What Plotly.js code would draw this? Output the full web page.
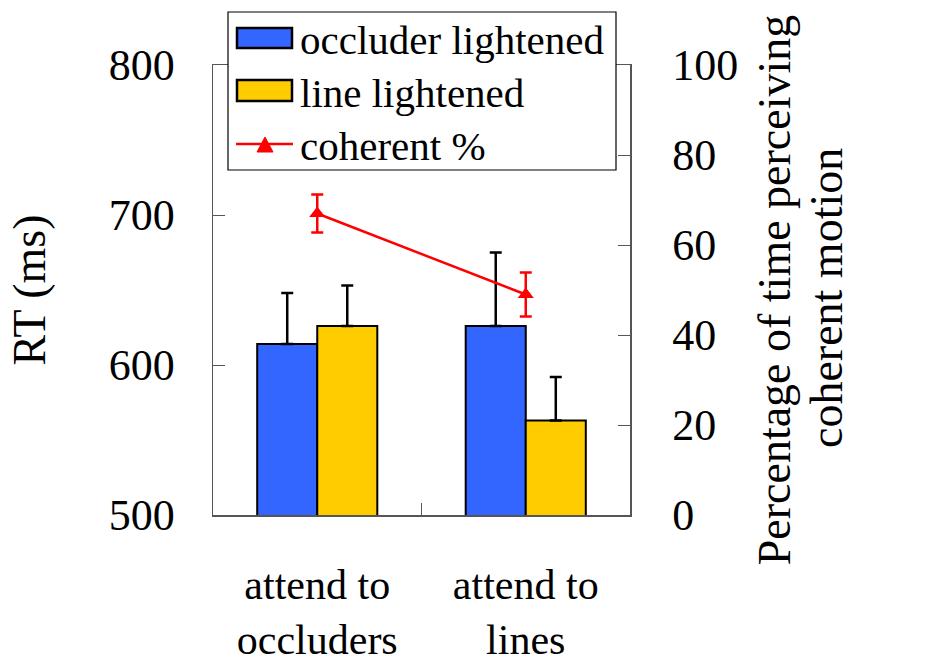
<!DOCTYPE html>
<html><head><meta charset="utf-8">
<script src="https://cdn.plot.ly/plotly-3.0.1.min.js"></script>
<style>body{margin:0;background:#fff}#chart{width:934px;height:664px}</style>
</head><body><div id="chart"></div>
<script>
const categories = ["attend to<br>occluders", "attend to<br>lines"];
const occluderRT = [614, 626];
const occluderErr = [34, 49];
const lineRT = [626, 563];
const lineErr = [27, 29];
const coherentPct = [67, 49];
const coherentErr = [4.2, 4.9];
const rtTicks = [500, 600, 700, 800];
const pctTicks = [0, 20, 40, 60, 80, 100];
const legendNames = ["occluder lightened", "line lightened", "coherent %"];
const y2TitleLines = ["Percentage of time perceiving", "coherent motion"];
const colors = {occ:"#3366FF", line:"#FFCC00", coh:"#FF0000"};

const F = "'Liberation Serif', 'Times New Roman', Times, serif";
const L = 213, R = 630, T = 65, B = 515;
const px = v => (v - L) / (R - L);
const py = v => (B - v) / (B - T);

const traces = [
  {type:"bar", name:legendNames[0], x:categories, y:occluderRT,
   marker:{color:colors.occ, line:{color:"#000", width:2}},
   error_y:{type:"data", array:occluderErr, arrayminus:occluderErr.map(()=>0), symmetric:false, color:"#000", thickness:2.5, width:6}},
  {type:"bar", name:legendNames[1], x:categories, y:lineRT,
   marker:{color:colors.line, line:{color:"#000", width:2}},
   error_y:{type:"data", array:lineErr, arrayminus:lineErr.map(()=>0), symmetric:false, color:"#000", thickness:2.5, width:6}},
  {type:"scatter", mode:"lines+markers", name:legendNames[2], x:categories, y:coherentPct, yaxis:"y2",
   line:{color:colors.coh, width:2.5}, marker:{symbol:"triangle-up", size:14, color:colors.coh},
   error_y:{type:"data", array:coherentErr, color:colors.coh, thickness:2.5, width:6}}
];

// custom legend (box, swatches, labels)
const shapes = [
  {type:"rect", xref:"paper", yref:"paper", x0:px(228), x1:px(616), y0:py(12), y1:py(170), fillcolor:"#fff", line:{color:"#000", width:1.2}, layer:"above"},
  {type:"rect", xref:"paper", yref:"paper", x0:px(237), x1:px(292), y0:py(28), y1:py(48), fillcolor:colors.occ, line:{color:"#000", width:2.5}, layer:"above"},
  {type:"rect", xref:"paper", yref:"paper", x0:px(237), x1:px(292), y0:py(80), y1:py(101), fillcolor:colors.line, line:{color:"#000", width:2.5}, layer:"above"},
  {type:"line", xref:"paper", yref:"paper", x0:px(236), x1:px(293), y0:py(144), y1:py(144), line:{color:colors.coh, width:2.5}, layer:"above"},
  {type:"path", xref:"paper", yref:"paper", path:`M ${px(257)} ${py(152)} L ${px(273)} ${py(152)} L ${px(265)} ${py(137)} Z`, fillcolor:colors.coh, line:{color:colors.coh, width:1}, layer:"above"}
];
const annotations = legendNames.map((n, i) => ({
  xref:"paper", yref:"paper", x:px(298), y:py([40, 93, 146][i]), xanchor:"left", yanchor:"middle",
  text:n, showarrow:false, font:{family:F, size:41, color:"#000"}
}));
// second line of right axis title
annotations.push({xref:"paper", yref:"paper", x:px(826), y:py(298), xanchor:"center", yanchor:"middle",
  textangle:-90, text:y2TitleLines[1], showarrow:false, font:{family:F, size:46, color:"#000"}});

const layout = {
  width:934, height:664,
  margin:{l:L, r:934-R, t:T, b:664-B},
  paper_bgcolor:"#fff", plot_bgcolor:"#fff",
  font:{family:F, size:44, color:"#000"},
  barmode:"group", bargap:0.424, bargroupgap:0,
  showlegend:false,
  shapes:shapes, annotations:annotations,
  xaxis:{type:"category", range:[-0.5,1.5], tickson:"boundaries", ticks:"inside", ticklen:12, tickcolor:"#555",
         showline:true, linecolor:"#555", linewidth:1.5, mirror:true, showgrid:false, zeroline:false,
         tickfont:{family:F, size:42}, ticklabelstandoff:32},
  yaxis:{range:[500,800], tickvals:rtTicks, ticks:"inside", ticklen:12, tickcolor:"#555",
         showline:true, linecolor:"#555", linewidth:1.5, showgrid:false, zeroline:false,
         tickfont:{family:F, size:44}, ticklabelstandoff:28,
         title:{text:"RT (ms)", font:{family:F, size:46}, standoff:48}},
  yaxis2:{overlaying:"y", side:"right", range:[0,100], tickvals:pctTicks, ticks:"inside", ticklen:12, tickcolor:"#555",
          showline:true, linecolor:"#555", linewidth:1.5, showgrid:false, zeroline:false,
          tickfont:{family:F, size:44}, ticklabelstandoff:32,
          title:{text:y2TitleLines[0], font:{family:F, size:46}, standoff:20}}
};
Plotly.newPlot("chart", traces, layout, {displayModeBar:false, staticPlot:true});
</script></body></html>
